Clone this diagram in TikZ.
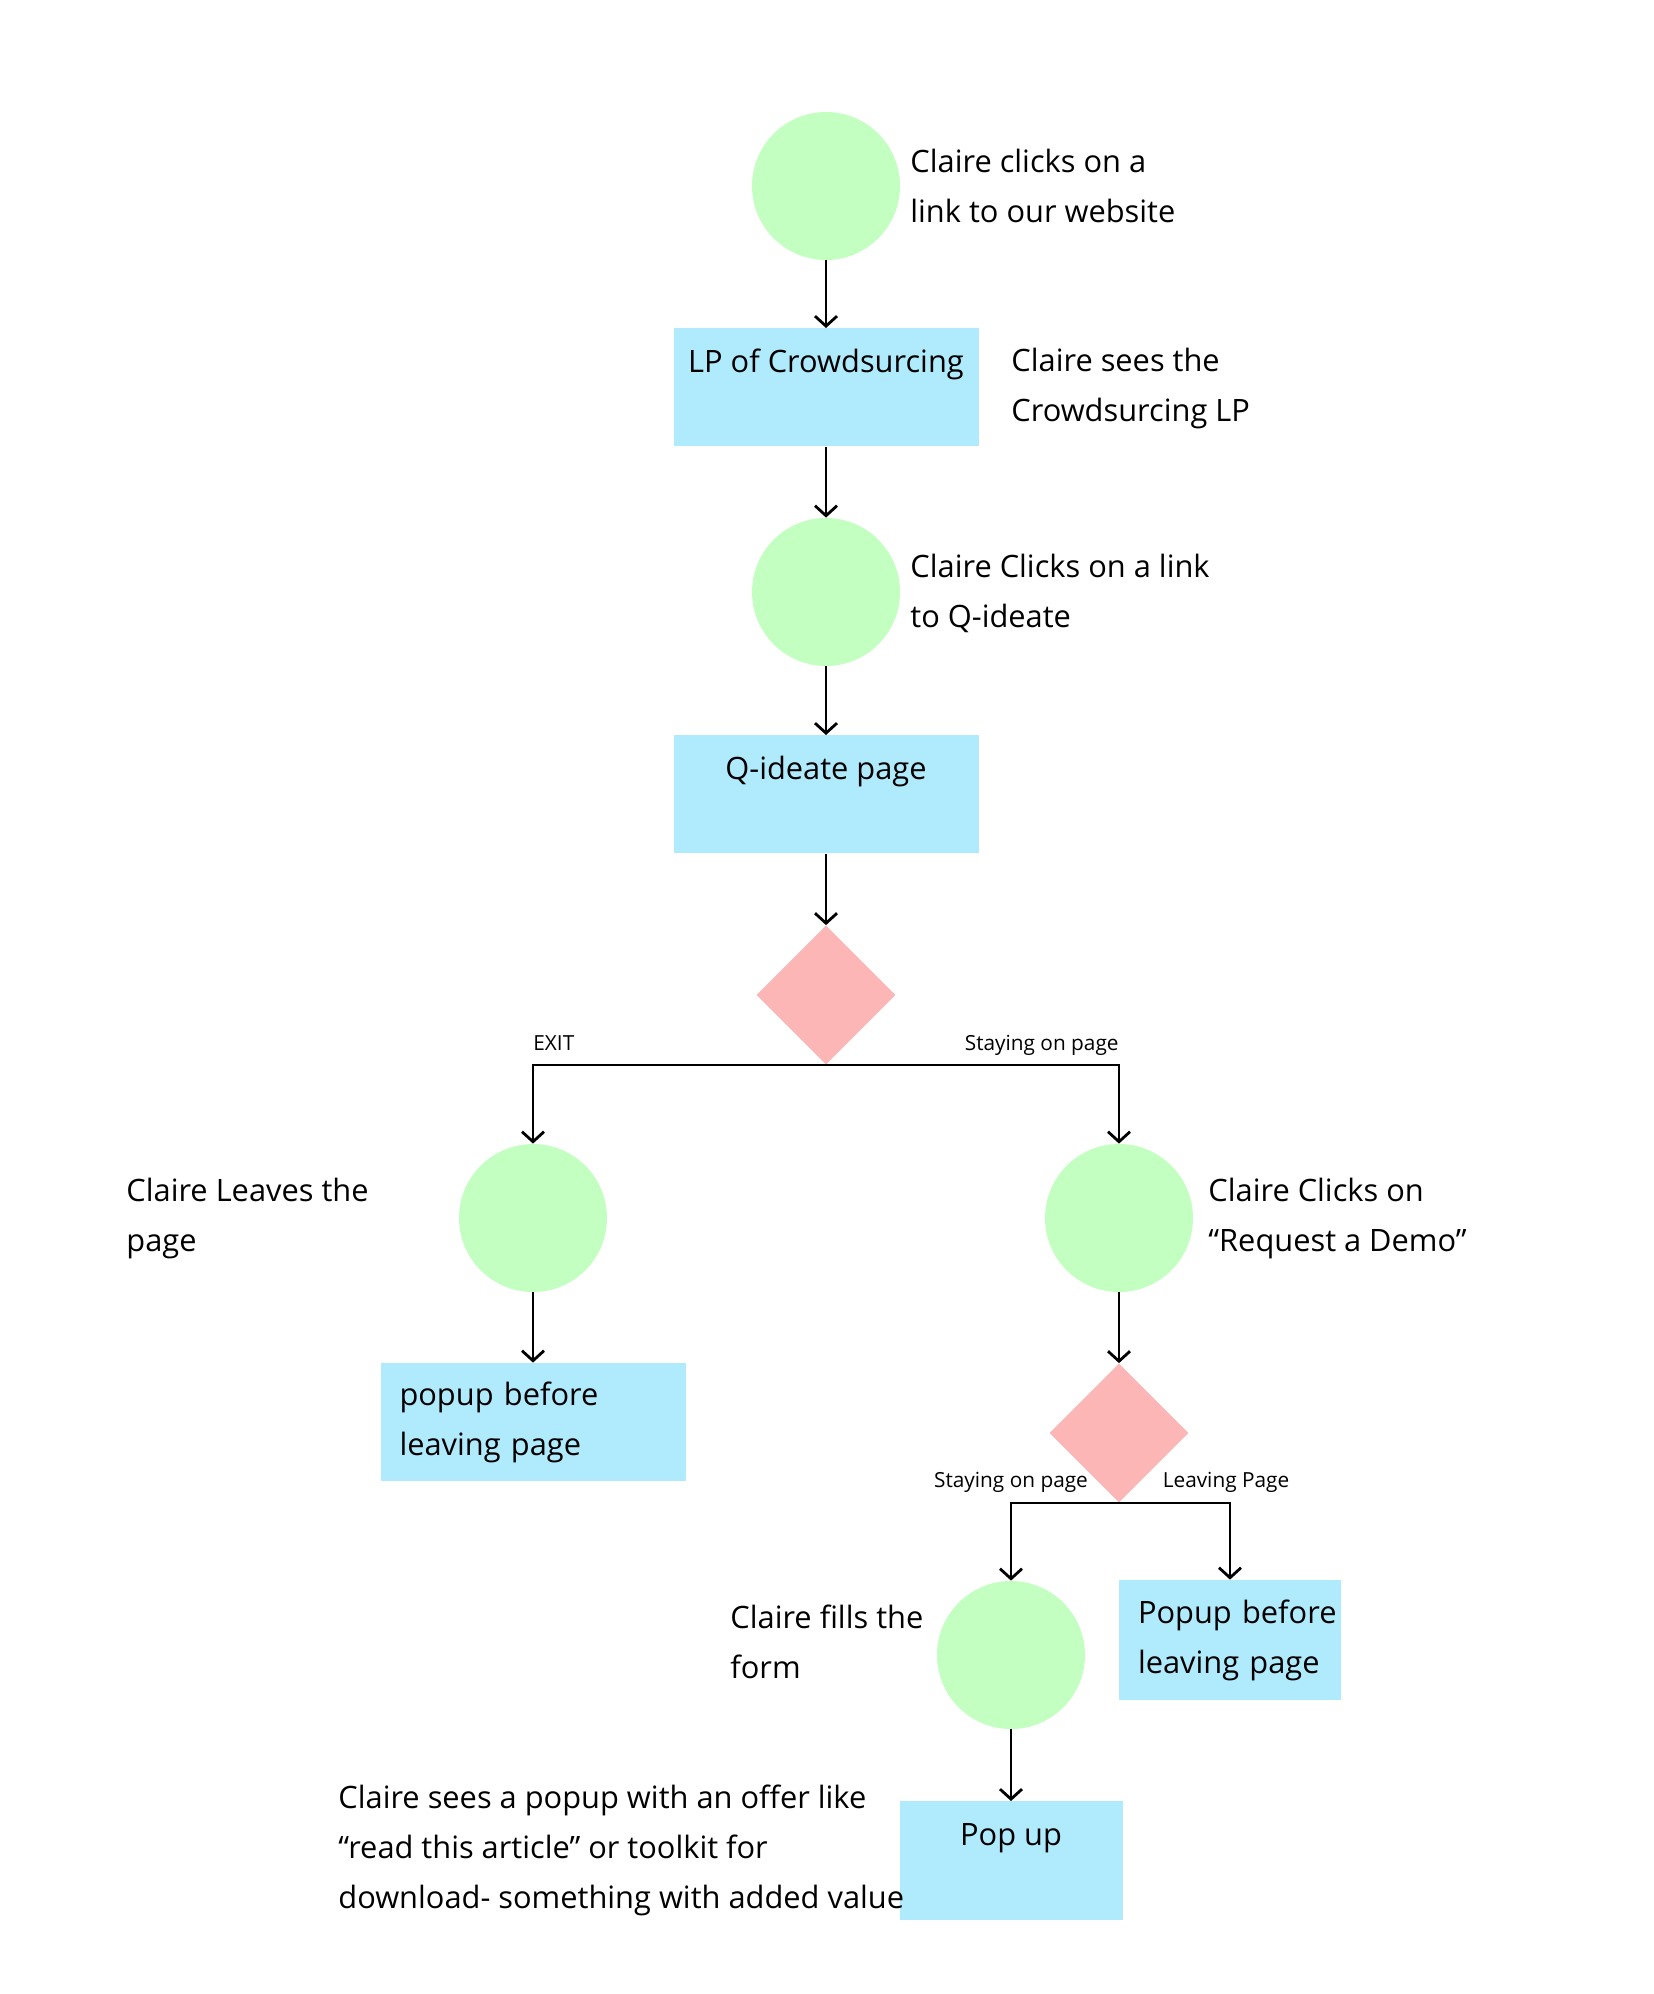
\documentclass[tikz,border=0pt]{standalone}
\usepackage{fontspec}
\setmainfont{Open Sans}
\usetikzlibrary{shapes.geometric,arrows.meta}
\definecolor{cgreen}{HTML}{C2FFC0}
\definecolor{cblue}{HTML}{AFEBFD}
\definecolor{cpink}{HTML}{FDB6B6}
\begin{document}
\begin{tikzpicture}[x=0.5pt,y=-0.5pt,
  circ/.style={circle, fill=cgreen, minimum size=74pt, inner sep=0pt},
  box/.style={rectangle, fill=cblue, inner sep=0pt, minimum width=152.5pt, minimum height=59pt,
     font=\fontsize{15.4}{25}\selectfont},
  topbox/.style={box, anchor=north, text height=22pt, text depth=37pt},
  dec/.style={diamond, fill=cpink, minimum width=69.5pt, minimum height=69.5pt, inner sep=0pt, aspect=1},
  lbl/.style={anchor=west, align=left, inner sep=0pt, font=\fontsize{15.4}{25}\selectfont},
  small/.style={inner sep=0pt, font=\fontsize{10.4}{12}\selectfont},
  arr/.style={-{Straight Barb[length=5pt,width=11pt]}, line width=1.4pt}
]
\fill[white] (0,0) rectangle (1654,1994);
\useasboundingbox (0,0) rectangle (1654,1994);

% nodes
\node[circ] (c1) at (826,186) {};
\node[topbox] (r1) at (826,328) {LP of Crowdsurcing};
\node[circ] (c2) at (826,592) {};
\node[topbox] (r2) at (826,735) {Q-ideate page};
\node[dec] (d1) at (826,995) {};
\node[circ] (c3) at (533,1218) {};
\node[circ] (c4) at (1119,1218) {};
\node[box, align=left, text width=133.5pt, inner xsep=9.5pt] (r3) at (533,1422) {popup before\\leaving page};
\node[dec] (d2) at (1119,1433) {};
\node[circ] (c5) at (1011,1655) {};
\node[box, minimum width=111pt, minimum height=60pt, text width=92pt, inner xsep=9.5pt, align=left] (r4) at (1230,1640) {\mbox{Popup before}\\\mbox{leaving page}};
\node[topbox, minimum width=111.5pt, text depth=37.5pt] (r5) at (1011,1801) {Pop up};

% side labels
\node[lbl] (t1) at (910,186) {Claire clicks on a\\link to our website};
\node[lbl] (t2) at (1011,388) {Claire sees the\\Crowdsurcing LP};
\node[lbl] (t3) at (910,593) {Claire Clicks on a link\\to Q-ideate};
\node[lbl] (t4) at (126,1218) {Claire Leaves the\\page};
\node[lbl] (t5) at (1208,1218) {Claire Clicks on\\“Request a Demo”};
\node[lbl] (t6) at (730,1642) {Claire fills the\\form};
\node[lbl] (t7) at (338,1850) {Claire sees a popup with an offer like\\“read this article” or toolkit for\\download- something with added value};

% connectors
\draw[arr] (c1) -- (r1);
\draw[arr] (r1) -- (c2);
\draw[arr] (c2) -- (r2);
\draw[arr] (r2) -- (d1);
\draw[arr] (d1.south) -| (c3.north);
\draw[arr] (d1.south) -| (c4.north);
\node[small, anchor=base west] (l1) at (533,1050) {EXIT};
\node[small, anchor=base east] (l2) at (1119,1050) {Staying on page};
\draw[arr] (c3) -- (r3);
\draw[arr] (c4) -- (d2);
\draw[arr] (d2.south) -| (c5.north);
\draw[arr] (d2.south) -| (r4.north);
\node[small, anchor=base] (l3) at (1011,1487) {Staying on page};
\node[small, anchor=base] (l4) at (1226,1487) {Leaving Page};
\draw[arr] (c5) -- (r5);
\end{tikzpicture}
\end{document}
